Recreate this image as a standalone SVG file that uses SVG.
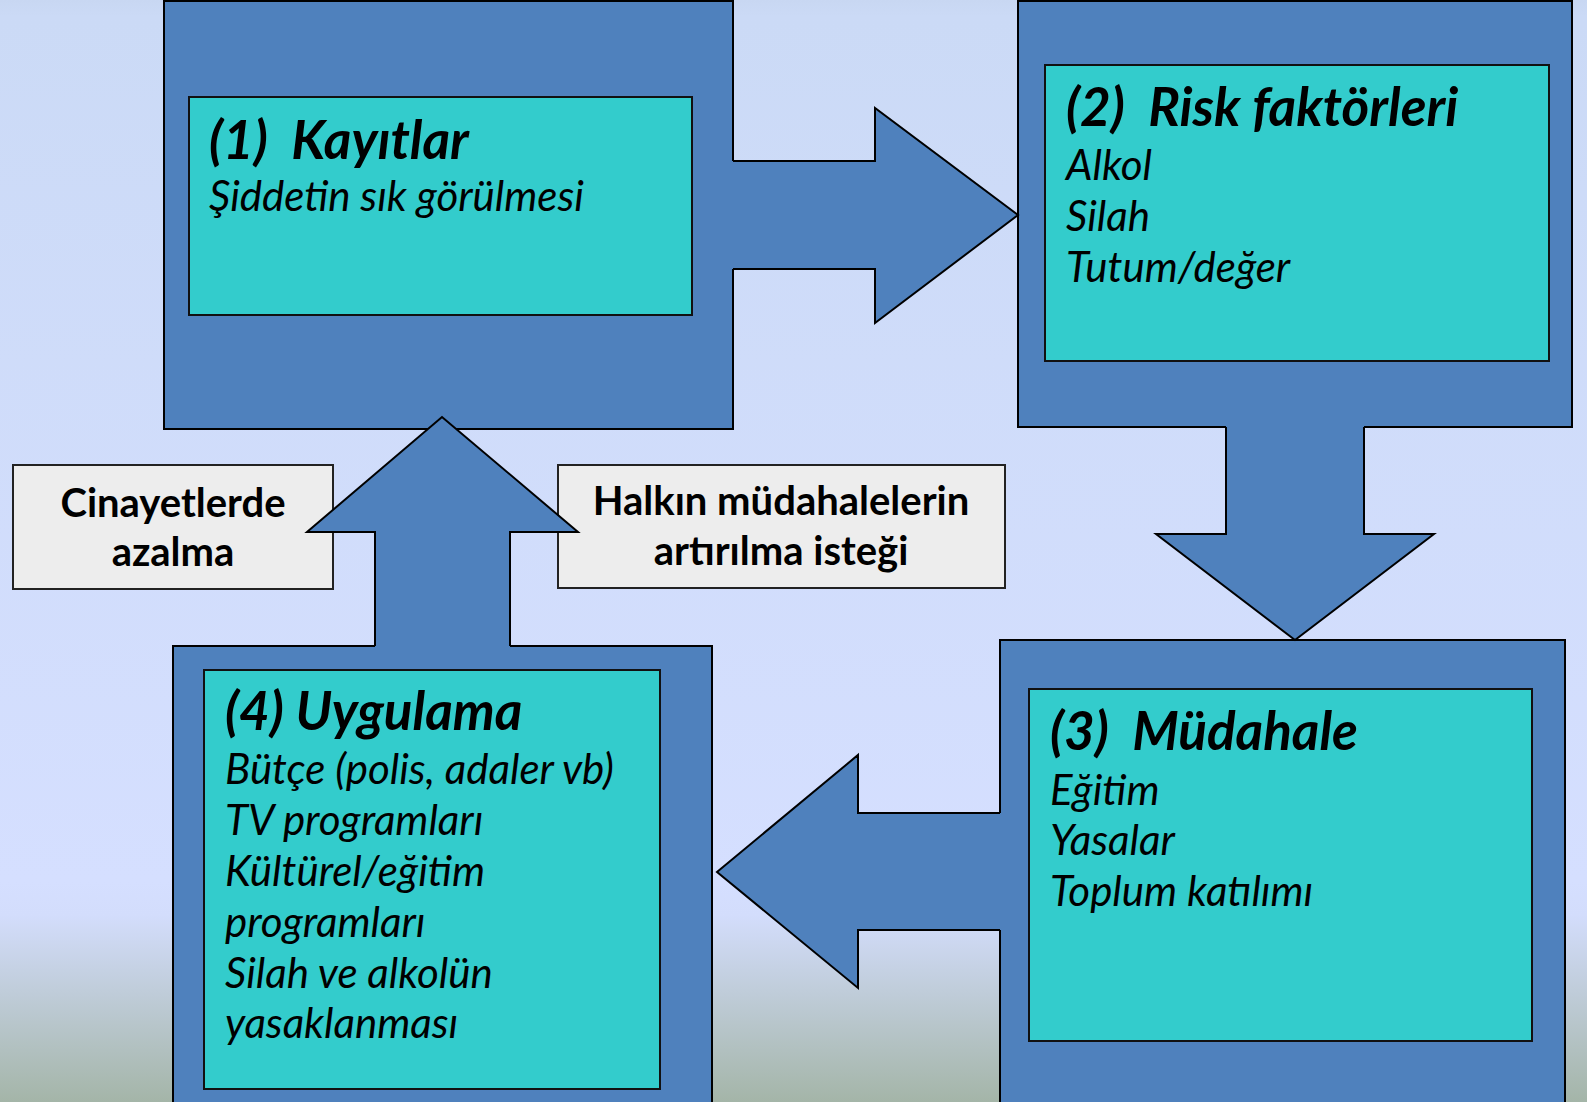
<svg xmlns="http://www.w3.org/2000/svg" width="1587" height="1102" viewBox="0 0 1587 1102">
<defs>
<linearGradient id="bg" x1="0" y1="0" x2="0" y2="1102" gradientUnits="userSpaceOnUse">
<stop offset="0" stop-color="#C8D7F2"/>
<stop offset="0.015" stop-color="#CBDAF6"/>
<stop offset="0.8" stop-color="#D5DFFF"/>
<stop offset="0.83" stop-color="#D3DDFC"/>
<stop offset="1" stop-color="#A4B5A8"/>
</linearGradient>
<style>
.outer{fill:#4F81BD;stroke:#000;stroke-width:2}
.inner{fill:#33CCCC;stroke:#111;stroke-width:2}
.lbl{fill:#EDEDED;stroke:#222;stroke-width:2}
.afill{fill:#4F81BD;stroke:none}
.aline{fill:none;stroke:#000;stroke-width:2;stroke-linejoin:miter}
text{font-family:Lato,"Open Sans","Liberation Sans",sans-serif;fill:#000;white-space:pre}
.t{font-size:53px;font-weight:bold;font-style:italic}
.b{font-size:42px;font-style:italic}
.l{font-size:40px;font-weight:bold;text-anchor:middle}
</style>
</defs>
<rect x="0" y="0" width="1587" height="1102" fill="url(#bg)"/>

<g id="node1">
<rect class="outer" x="164" y="1" width="569" height="428"/>
<rect class="inner" x="189" y="97" width="503" height="218"/>
<text class="t" x="209" y="159" xml:space="preserve">(1)  Kayıtlar</text>
<text class="b" x="209" y="211">Şiddetin sık görülmesi</text>
</g>

<g id="node2">
<rect class="outer" x="1018" y="1" width="554" height="426"/>
<rect class="inner" x="1045" y="65" width="504" height="296"/>
<text class="t" x="1066" y="126" xml:space="preserve">(2)  Risk faktörleri</text>
<text class="b" x="1066" y="180">Alkol</text>
<text class="b" x="1066" y="231">Silah</text>
<text class="b" x="1066" y="282">Tutum/değer</text>
</g>

<g id="node3">
<rect class="outer" x="1000" y="640" width="565" height="470"/>
<rect class="inner" x="1029" y="689" width="503" height="352"/>
<text class="t" x="1050" y="750" xml:space="preserve">(3)  Müdahale</text>
<text class="b" x="1050" y="805">Eğitim</text>
<text class="b" x="1050" y="855">Yasalar</text>
<text class="b" x="1050" y="906">Toplum katılımı</text>
</g>

<g id="node4">
<rect class="outer" x="173" y="646" width="539" height="470"/>
<rect class="inner" x="204" y="670" width="456" height="419"/>
<text class="t" x="225" y="730">(4) Uygulama</text>
<text class="b" x="225" y="784">Bütçe (polis, adaler vb)</text>
<text class="b" x="225" y="835">TV programları</text>
<text class="b" x="225" y="886">Kültürel/eğitim</text>
<text class="b" x="225" y="937">programları</text>
<text class="b" x="225" y="988">Silah ve alkolün</text>
<text class="b" x="225" y="1038">yasaklanması</text>
</g>

<g id="label-azalma">
<rect class="lbl" x="13" y="465" width="320" height="124"/>
<text class="l" x="173" y="517">Cinayetlerde</text>
<text class="l" x="173" y="566">azalma</text>
</g>

<g id="label-istek">
<rect class="lbl" x="558" y="465" width="447" height="123"/>
<text class="l" x="781" y="515">Halkın müdahalelerin</text>
<text class="l" x="781" y="565">artırılma isteği</text>
</g>

<g id="connectors">
<g id="arrow-1-2">
<polygon class="afill" points="731,161 875,161 875,108 1018,215 875,323 875,269 731,269"/>
<path class="aline" d="M733,161 H875 V108 L1018,215 L875,323 V269 H733"/>
</g>
<g id="arrow-2-3">
<polygon class="afill" points="1226,425 1226,534 1156,534 1295,640 1434,534 1364,534 1364,425"/>
<path class="aline" d="M1226,427 V534 H1156 L1295,640 L1434,534 H1364 V427"/>
</g>
<g id="arrow-3-4">
<polygon class="afill" points="1002,813 858,813 858,755 717,872 858,988 858,930 1002,930"/>
<path class="aline" d="M1000,813 H858 V755 L717,872 L858,988 V930 H1000"/>
</g>
<g id="arrow-4-1">
<polygon class="afill" points="375,648 375,532 307,532 442,417 578,532 510,532 510,648"/>
<path class="aline" d="M375,646 V532 H307 L442,417 L578,532 H510 V646"/>
</g>
</g>
</svg>
